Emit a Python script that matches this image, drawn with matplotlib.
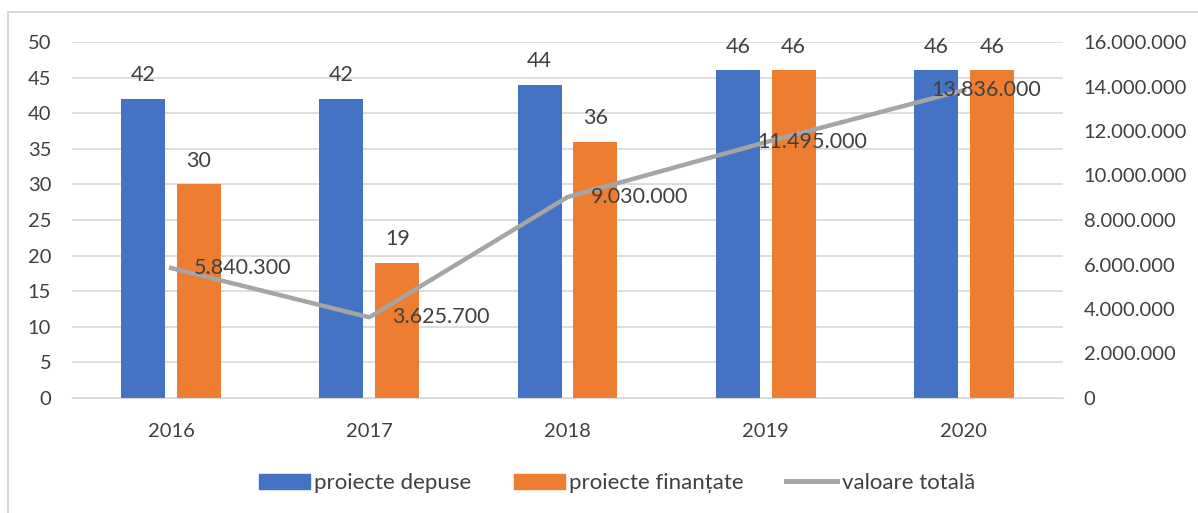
import matplotlib.pyplot as plt
from matplotlib.patches import Rectangle
from matplotlib.lines import Line2D
from matplotlib.ticker import FuncFormatter
import numpy as np

years = ['2016', '2017', '2018', '2019', '2020']
depuse = [42, 42, 44, 46, 46]
finantate = [30, 19, 36, 46, 46]
valoare = [5840300, 3625700, 9030000, 11495000, 13836000]

blue = '#4472C4'
orange = '#ED7D31'
grey = '#A5A5A5'
txt = '#404040'

plt.rcParams['font.family'] = ['Lato', 'DejaVu Sans']

def dots(v):
    return f"{int(v):,}".replace(',', '.')

fig = plt.figure(figsize=(11.98, 5.13), dpi=100)
fig.patches.append(Rectangle((8 / 1198, -0.1), 1.2, 1 - 12 / 513 + 0.1, transform=fig.transFigure,
                             fill=False, edgecolor='#D9D9D9', linewidth=1.5))
ax = fig.add_axes([72 / 1198, 1 - 398 / 513, (1063 - 72) / 1198, (398 - 42) / 513])
ax2 = ax.twinx()

x = np.arange(len(years))
off = 0.141
w = 0.222
ax.bar(x - off, depuse, w, color=blue, zorder=2)
ax.bar(x + off, finantate, w, color=orange, zorder=2)
for xi, v in zip(x, depuse):
    ax.text(xi - off, v + 1.9, str(v), ha='center', va='bottom', fontsize=15.5, color=txt)
for xi, v in zip(x, finantate):
    ax.text(xi + off, v + 1.9, str(v), ha='center', va='bottom', fontsize=15.5, color=txt)

ax.set_xlim(-0.5, len(years) - 0.5)
ax.set_ylim(0, 50)
ax.set_yticks(range(0, 51, 5))
ax.set_xticks(x)
ax.set_xticklabels(years)
ax.yaxis.grid(True, color='#D9D9D9', linewidth=1.2, zorder=0)
ax.set_axisbelow(True)
for s in ax.spines.values():
    s.set_visible(False)
ax.spines['bottom'].set_visible(True)
ax.spines['bottom'].set_color('#D9D9D9')
ax.tick_params(axis='both', length=0, labelsize=14.5, labelcolor=txt)
ax.tick_params(axis='y', pad=15)
ax.tick_params(axis='x', pad=18)

ax2.plot(x, valoare, color=grey, linewidth=3.2, zorder=3)
# label shifts as placed in the original (last two were moved left)
label_dx = [0.116, 0.116, 0.116, -0.04, -0.162]
for xi, v, dx in zip(x, valoare, label_dx):
    ax2.text(xi + dx, v, dots(v), ha='left', va='center', fontsize=15.5, color=txt, zorder=4)
ax2.set_ylim(0, 16000000)
ax2.set_yticks(range(0, 16000001, 2000000))
ax2.yaxis.set_major_formatter(FuncFormatter(lambda v, p: dots(v)))
for s in ax2.spines.values():
    s.set_visible(False)
ax2.tick_params(axis='y', length=0, labelsize=14.5, labelcolor=txt, pad=15)

handles = [Rectangle((0, 0), 1, 1, color=blue), Rectangle((0, 0), 1, 1, color=orange),
           Line2D([0], [0], color=grey, linewidth=3.6)]
fig.legend(handles, ['proiecte depuse', 'proiecte finanțate', 'valoare totală'],
           loc='center', bbox_to_anchor=(617 / 1198, 1 - 483 / 513), ncol=3, frameon=False,
           fontsize=16, labelcolor=txt, handlelength=2.3, handleheight=0.65,
           handletextpad=0.2, columnspacing=1.9)

fig.savefig('out.png', dpi=100)
